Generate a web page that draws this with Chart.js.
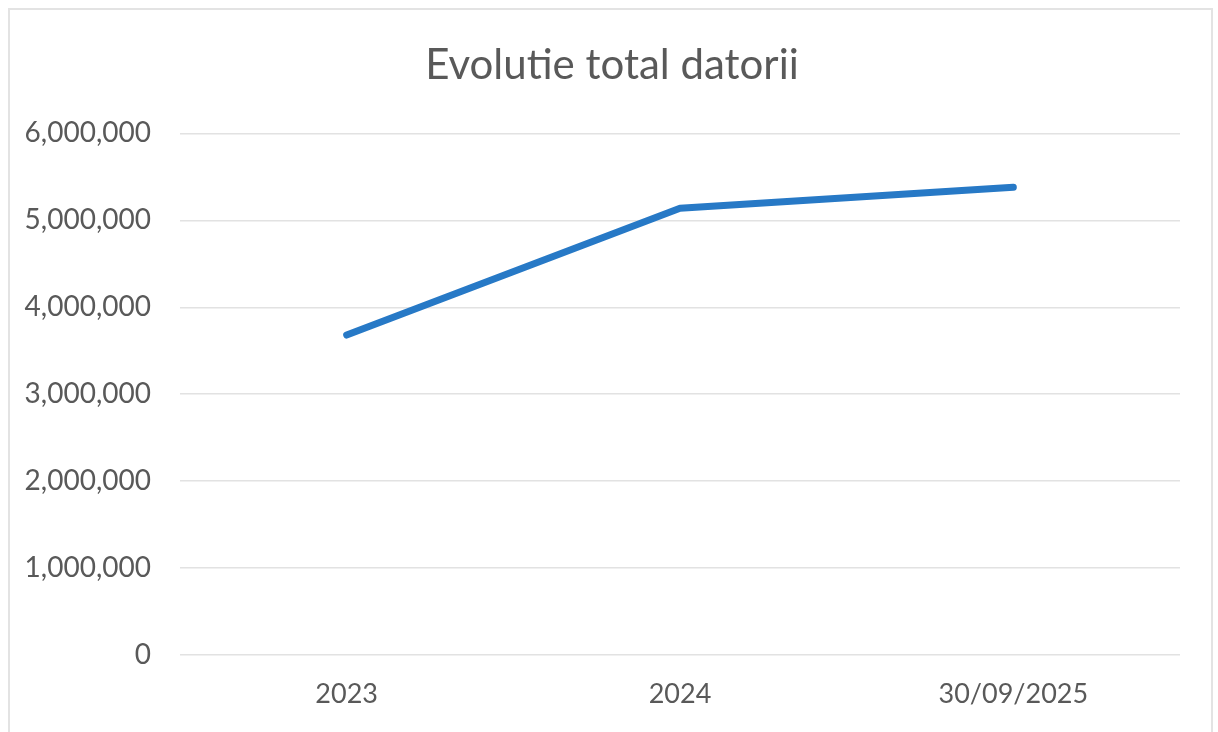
<!DOCTYPE html>
<html>
<head>
<meta charset="utf-8">
<script src="https://cdn.jsdelivr.net/npm/chart.js@4"></script>
<style>
  body { margin: 0; background: #fff; }
  #wrap { position: relative; width: 1218px; height: 732px; }
  #frame {
    position: absolute; left: 8px; top: 8px; width: 1205px; height: 740px;
    border: 2px solid #e3e3e3; box-sizing: border-box;
  }
  canvas { position: absolute; left: 0; top: 0; }
</style>
</head>
<body>
<div id="wrap">
  <div id="frame"></div>
  <canvas id="chart" width="1218" height="732"></canvas>
</div>
<script>
// chart data
const years = ["2023", "2024", "30/09/2025"];
const totalDatorii = [3680000, 5140000, 5380000];
const yTicks = [0, 1000000, 2000000, 3000000, 4000000, 5000000, 6000000];

const textColor = "#595959";
const fontFam = "Lato, 'Open Sans', sans-serif";

const ctx = document.getElementById("chart").getContext("2d");
new Chart(ctx, {
  type: "line",
  data: {
    labels: years,
    datasets: [
      {
        label: "Total datorii",
        data: totalDatorii,
        borderColor: "#2779c6",
        borderWidth: 7,
        borderCapStyle: "round",
        borderJoinStyle: "round",
        pointRadius: 0,
        tension: 0,
        fill: false,
      },
    ],
  },
  options: {
    responsive: false,
    animation: false,
    layout: { padding: { top: 8, right: 18, left: 24, bottom: 0 } },
    plugins: {
      legend: { display: false },
      tooltip: { enabled: false },
      title: {
        display: true,
        text: "Evolutie total datorii",
        color: textColor,
        font: { family: fontFam, size: 42, weight: "normal" },
        padding: { top: 32, bottom: 43 },
      },
    },
    scales: {
      x: {
        offset: true,
        grid: { display: false, drawTicks: false },
        border: { display: false },
        ticks: {
          color: textColor,
          font: { family: fontFam, size: 27 },
          padding: 23,
          maxRotation: 0,
        },
        afterFit: (scale) => { scale.height = 77; },
      },
      y: {
        min: 0,
        max: 6000000,
        afterBuildTicks: (scale) => {
          scale.ticks = yTicks.map((v) => ({ value: v }));
        },
        grid: { color: "#e2e2e2", lineWidth: 1.5, drawTicks: false },
        border: { display: false },
        ticks: {
          color: textColor,
          font: { family: fontFam, size: 28 },
          padding: 29,
          callback: (v) => v.toLocaleString("en-US"),
        },
        afterFit: (scale) => { scale.width = 156; },
      },
      // empty right axis, only to keep the plot edge at the same place
      yRight: {
        position: "right",
        min: 0,
        max: 6000000,
        grid: { display: false, drawTicks: false },
        border: { display: false },
        ticks: { display: false },
        afterFit: (scale) => { scale.width = 20; },
      },
    },
  },
});
</script>
</body>
</html>
